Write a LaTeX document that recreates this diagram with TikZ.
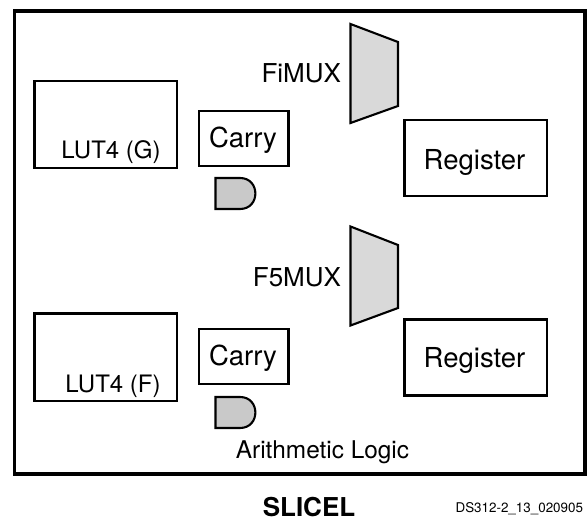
\documentclass[tikz,border=0pt]{standalone}
\usepackage{fontspec}
\setmainfont{TeX Gyre Heros}
\definecolor{muxgray}{HTML}{D9D9D9}
\definecolor{andgray}{HTML}{C9C9C9}
\newcommand{\txt}[1]{\fontsize{#1}{#1}\selectfont}
\tikzset{
  x=1pt,y=-1pt,
  labelbase/.style={inner sep=0pt,outer sep=0pt,text=black,font=\txt{26}},
  biglabel/.style={labelbase,font=\txt{27.5}},
  smalllabel/.style={labelbase,font=\txt{24}},
  block/.style={draw=black,line width=2.1pt,fill=white},
  mux/.style={draw=black,line width=2.1pt,fill=muxgray,line join=miter},
  andgate/.style={draw=black,line width=2.1pt,fill=andgray,line join=miter},
  outerbox/.style={draw=black,line width=3.6pt,fill=white}
}
\begin{document}
\begin{tikzpicture}
\useasboundingbox (0,0) rectangle (587,521);
\draw[outerbox] (14.5,11) rectangle (585,474);
% upper half
\draw[block] (34.5,81) rectangle (177,168);
\draw[block] (199,111) rectangle (288.5,166);
\draw[andgate] (215.5,178) -- (240,178) .. controls (260.5,178) and (260.5,209) .. (240,209) -- (215.5,209) -- cycle;
\draw[mux] (350.5,24) -- (398,42) -- (398,106) -- (350.5,123) -- cycle;
\draw[block] (404.5,120) rectangle (547,196);
% lower half
\draw[block] (34.5,313.5) rectangle (177,401);
\draw[block] (199,329) rectangle (288.5,384);
\draw[andgate] (215.5,397) -- (240,397) .. controls (260.5,397) and (260.5,428) .. (240,428) -- (215.5,428) -- cycle;
\draw[mux] (350.5,226.5) -- (398,245) -- (398,308) -- (350.5,325.5) -- cycle;
\draw[block] (404.5,319.5) rectangle (547,395.5);
% labels
\node[smalllabel,anchor=base] (lutg) at (111,159) {LUT4 (G)};
\node[biglabel,anchor=base] (carryg) at (243,147.5) {Carry};
\node[labelbase,anchor=base east] (fimux) at (341,82.5) {FiMUX};
\node[biglabel,anchor=base] (regg) at (474.5,169.5) {Register};
\node[smalllabel,anchor=base] (lutf) at (113,392.5) {LUT4 (F)};
\node[biglabel,anchor=base] (carryf) at (243,366) {Carry};
\node[labelbase,anchor=base east] (f5mux) at (341,286.5) {F5MUX};
\node[biglabel,anchor=base] (regf) at (474.5,368) {Register};
\node[labelbase,anchor=base,font=\txt{24.4}] (arith) at (322.5,458.5) {Arithmetic Logic};
\node[labelbase,anchor=base,font=\txt{26}\bfseries] (slicel) at (309,516.5) {SLICEL};
\node[labelbase,anchor=base east,font=\txt{13.4}] (dsid) at (583,512.5) {DS312-2\_13\_020905};
\end{tikzpicture}
\end{document}
